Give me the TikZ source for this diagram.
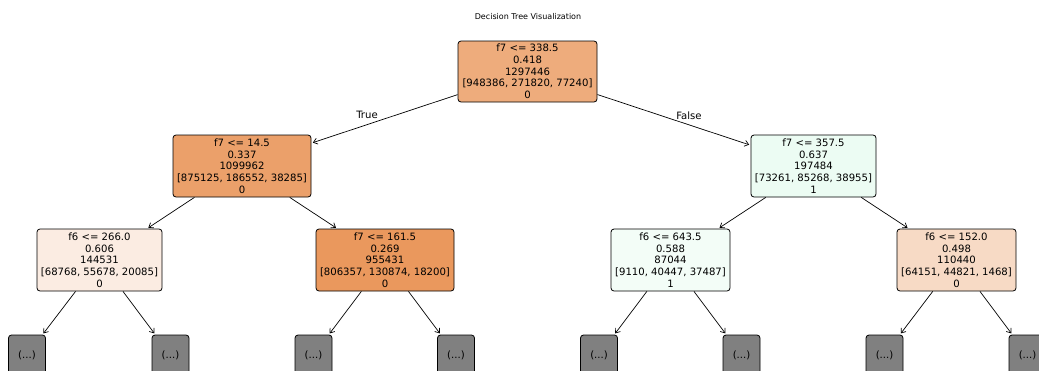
\documentclass[tikz,border=0pt]{standalone}
\usepackage{fontspec}
\setmainfont{DejaVu Sans}
\usetikzlibrary{arrows.meta}
\definecolor{cRoot}{RGB}{238,172,124}
\definecolor{cLone}{RGB}{235,160,106}
\definecolor{cRone}{RGB}{236,252,243}
\definecolor{cLL}{RGB}{251,236,226}
\definecolor{cLR}{RGB}{234,152,93}
\definecolor{cRL}{RGB}{243,253,247}
\definecolor{cRR}{RGB}{247,218,197}
\definecolor{leafgray}{RGB}{128,128,128}
\begin{document}
\begin{tikzpicture}[x=1pt,y=-1pt,
  treenode/.style={draw=black, line width=0.8pt, rounded corners=3pt, align=center,
    inner sep=1pt, minimum height=62pt, font=\fontsize{10.1}{11.65}\selectfont},
  leafbox/.style={draw=black, line width=0.8pt, rounded corners=3pt, fill=leafgray,
    minimum width=37pt, minimum height=40pt, inner sep=0pt, font=\fontsize{10.1}{11.65}\selectfont},
  edgelbl/.style={font=\fontsize{10.1}{11.65}\selectfont, inner sep=0pt},
  edge/.style={-{Straight Barb[length=4pt,width=6pt]}, line width=0.7pt, shorten >=1.5pt}
]
\useasboundingbox (0,0) rectangle (1039,370);
\clip (0,0) rectangle (1039,370);

\node[font=\fontsize{8}{9.6}\selectfont, inner sep=0pt] (title) at (528,17) {Decision Tree Visualization};

\node[treenode, fill=cRoot, minimum width=139pt, minimum height=61pt] (root) at (527.5,71.5)
  {f7 <= 338.5\\0.418\\1297446\\{[}948386, 271820, 77240{]}\\0};
\node[treenode, fill=cLone, minimum width=138pt] (l1l) at (242,166)
  {f7 <= 14.5\\0.337\\1099962\\{[}875125, 186552, 38285{]}\\0};
\node[treenode, fill=cRone, minimum width=125pt] (l1r) at (813.5,166)
  {f7 <= 357.5\\0.637\\197484\\{[}73261, 85268, 38955{]}\\1};
\node[treenode, fill=cLL, minimum width=125pt] (ll) at (99.5,260)
  {f6 <= 266.0\\0.606\\144531\\{[}68768, 55678, 20085{]}\\0};
\node[treenode, fill=cLR, minimum width=138pt] (lr) at (385,260)
  {f7 <= 161.5\\0.269\\955431\\{[}806357, 130874, 18200{]}\\0};
\node[treenode, fill=cRL, minimum width=119pt] (rl) at (670.5,260)
  {f6 <= 643.5\\0.588\\87044\\{[}9110, 40447, 37487{]}\\1};
\node[treenode, fill=cRR, minimum width=119pt] (rr) at (956.5,260)
  {f6 <= 152.0\\0.498\\110440\\{[}64151, 44821, 1468{]}\\0};

\node[leafbox] (b1) at (27,355) {(...)};
\node[leafbox] (b2) at (170.5,355) {(...)};
\node[leafbox] (b3) at (313.5,355) {(...)};
\node[leafbox] (b4) at (456,355) {(...)};
\node[leafbox] (b5) at (599,355) {(...)};
\node[leafbox] (b6) at (741.5,355) {(...)};
\node[leafbox] (b7) at (884.5,355) {(...)};
\node[leafbox] (b8) at (1027.5,355) {(...)};

\draw[edge] (root) -- (l1l);
\draw[edge] (root) -- (l1r);
\draw[edge] (l1l) -- (ll);
\draw[edge] (l1l) -- (lr);
\draw[edge] (l1r) -- (rl);
\draw[edge] (l1r) -- (rr);
\draw[edge] (ll) -- (b1);
\draw[edge] (ll) -- (b2);
\draw[edge] (lr) -- (b3);
\draw[edge] (lr) -- (b4);
\draw[edge] (rl) -- (b5);
\draw[edge] (rl) -- (b6);
\draw[edge] (rr) -- (b7);
\draw[edge] (rr) -- (b8);

\node[edgelbl] (tlbl) at (367,115) {True};
\node[edgelbl] (flbl) at (689,115.5) {False};
\end{tikzpicture}
\end{document}
